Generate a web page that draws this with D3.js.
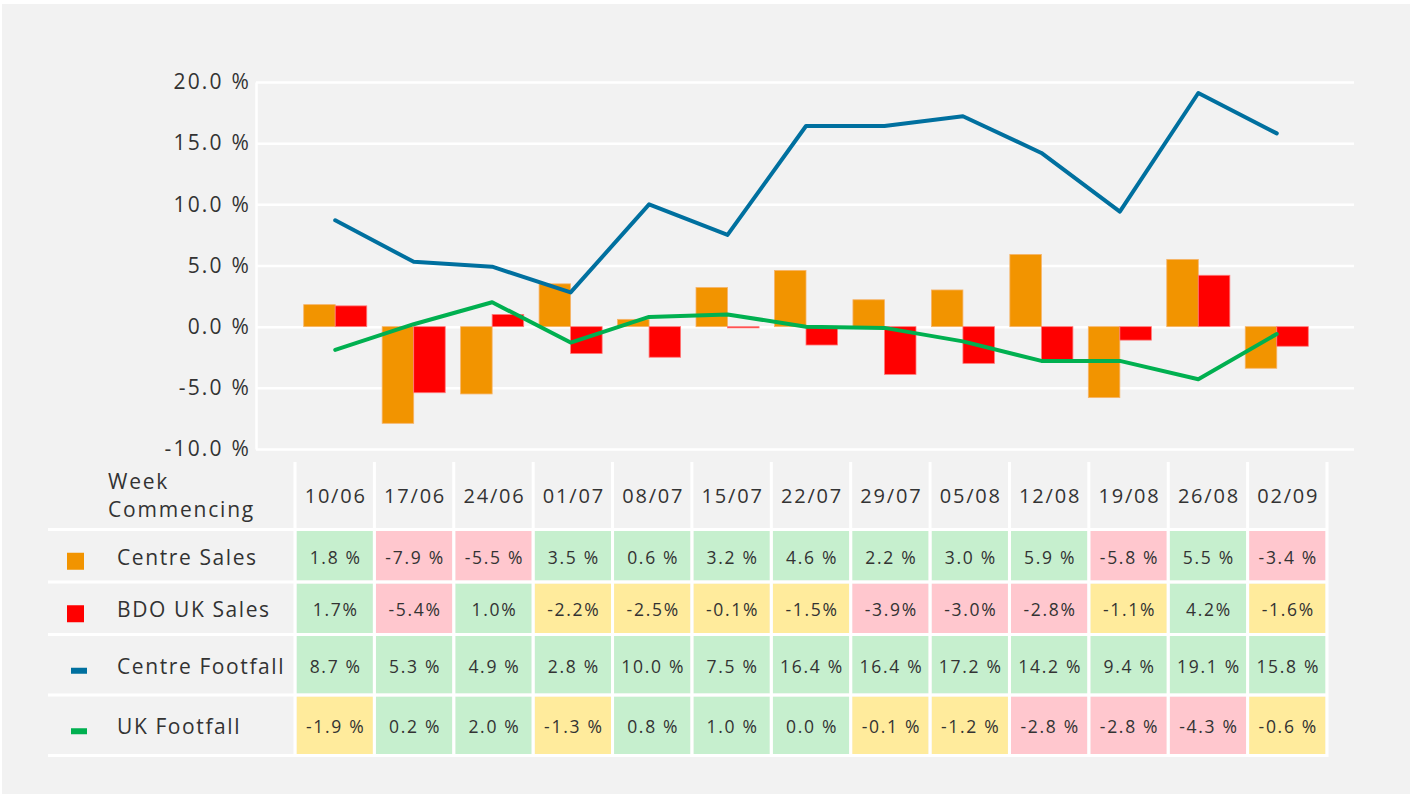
<!DOCTYPE html>
<html>
<head>
<meta charset="utf-8">
<script src="https://cdn.jsdelivr.net/npm/d3@7"></script>
<style>
  body { margin: 0; background: #fff; }
  text { font-family: "Open Sans", sans-serif; fill: #333; }
</style>
</head>
<body>
<div id="chart"></div>
<script>
// data
var weeks = ["10/06", "17/06", "24/06", "01/07", "08/07", "15/07", "22/07", "29/07", "05/08", "12/08", "19/08", "26/08", "02/09"];
var centreSales = [1.8, -7.9, -5.5, 3.5, 0.6, 3.2, 4.6, 2.2, 3.0, 5.9, -5.8, 5.5, -3.4];
var bdoSales = [1.7, -5.4, 1.0, -2.2, -2.5, -0.1, -1.5, -3.9, -3.0, -2.8, -1.1, 4.2, -1.6];
var centreFootfall = [8.7, 5.3, 4.9, 2.8, 10.0, 7.5, 16.4, 16.4, 17.2, 14.2, 9.4, 19.1, 15.8];
var ukFootfall = [-1.9, 0.2, 2.0, -1.3, 0.8, 1.0, 0.0, -0.1, -1.2, -2.8, -2.8, -4.3, -0.6];
var yTicks = [-10, -5, 0, 5, 10, 15, 20];
var seriesNames = ["Centre Sales", "BDO UK Sales", "Centre Footfall", "UK Footfall"];

var W = 1410, H = 796;
var plot = { left: 256, right: 1354, top: 82, bottom: 449, bandStart: 296, bandEnd: 1316 };
var table = { left: 48, colStart: 295, colEnd: 1327, headTop: 462 };
var rowLines = [529.5, 582, 634.5, 695, 755.5];

var colors = {
  orange: "#f29400", red: "#ff0000", blue: "#00709f", green: "#00b050",
  good: "#c6efce", warn: "#ffeb9c", bad: "#ffc7ce", panel: "#f2f2f2"
};

var svg = d3.select("#chart")
  .append("svg")
  .attr("width", W)
  .attr("height", H);

svg.append("rect")
  .attr("x", 2).attr("y", 4)
  .attr("width", W - 2).attr("height", H - 6)
  .attr("fill", colors.panel);

// scales: the chart bands are a touch narrower than the table columns
var x = d3.scaleBand()
  .domain(weeks)
  .range([plot.bandStart, plot.bandEnd]);

var xSub = d3.scaleBand()
  .domain(["centre", "bdo"])
  .range([7.7, x.bandwidth() - 7.7]);

var xTable = d3.scaleBand()
  .domain(weeks)
  .range([table.colStart, table.colEnd]);

var y = d3.scaleLinear()
  .domain([-10, 20])
  .range([plot.bottom, plot.top]);

// y axis + gridlines
var yAxis = svg.append("g")
  .attr("transform", "translate(" + plot.left + ",0)")
  .call(d3.axisLeft(y)
    .tickValues(yTicks)
    .tickSizeInner(-(plot.right - plot.left))
    .tickSizeOuter(0)
    .tickPadding(5)
    .tickFormat(function (d) { return d.toFixed(1) + " %"; }));

yAxis.select(".domain").attr("stroke", "#fff").attr("stroke-width", 2.5);
yAxis.selectAll(".tick line").attr("stroke", "#fff").attr("stroke-width", 2.5);
yAxis.selectAll(".tick text")
  .style("font-size", "21px")
  .style("letter-spacing", "2.2px")
  .style("font-family", "'Open Sans', sans-serif")
  .attr("fill", "#333");

// bars
var groups = svg.selectAll("g.week")
  .data(weeks)
  .enter()
  .append("g")
  .attr("class", "week")
  .attr("transform", function (d) { return "translate(" + x(d) + ",0)"; });

groups.append("rect")
  .attr("x", xSub("centre"))
  .attr("width", xSub.bandwidth())
  .attr("y", function (d, i) { return y(Math.max(0, centreSales[i])); })
  .attr("height", function (d, i) { return Math.abs(y(centreSales[i]) - y(0)); })
  .attr("fill", colors.orange)
  .attr("stroke", "#f6b46a")
  .attr("stroke-width", 0.8);

groups.append("rect")
  .attr("x", xSub("bdo"))
  .attr("width", xSub.bandwidth())
  .attr("y", function (d, i) { return y(Math.max(0, bdoSales[i])); })
  .attr("height", function (d, i) { return Math.abs(y(bdoSales[i]) - y(0)); })
  .attr("fill", colors.red)
  .attr("stroke", "#ff7a7a")
  .attr("stroke-width", 0.8);

// lines
var line = d3.line()
  .x(function (d, i) { return x(weeks[i]) + x.bandwidth() / 2; })
  .y(function (d) { return y(d); });

svg.append("path")
  .datum(centreFootfall)
  .attr("d", line)
  .attr("fill", "none")
  .attr("stroke", colors.blue)
  .attr("stroke-width", 4)
  .attr("stroke-linecap", "round")
  .attr("stroke-linejoin", "round");

svg.append("path")
  .datum(ukFootfall)
  .attr("d", line)
  .attr("fill", "none")
  .attr("stroke", colors.green)
  .attr("stroke-width", 4)
  .attr("stroke-linecap", "round")
  .attr("stroke-linejoin", "round");

// data table
var rows = [
  { name: seriesNames[0], values: centreSales, suffix: " %", marker: "square", color: colors.orange },
  { name: seriesNames[1], values: bdoSales, suffix: "%", marker: "square", color: colors.red },
  { name: seriesNames[2], values: centreFootfall, suffix: " %", marker: "dash", color: colors.blue },
  { name: seriesNames[3], values: ukFootfall, suffix: " %", marker: "dash", color: colors.green }
];

function cellColor(v) {
  if (v >= 0) return colors.good;
  if (v > -2.6) return colors.warn;
  return colors.bad;
}

var tbl = svg.append("g").attr("class", "table");

// header
tbl.selectAll("text.week")
  .data(weeks)
  .enter()
  .append("text")
  .attr("class", "week")
  .attr("x", function (d) { return xTable(d) + xTable.bandwidth() / 2 + 1; })
  .attr("y", (table.headTop + rowLines[0]) / 2)
  .attr("text-anchor", "middle")
  .attr("dominant-baseline", "central")
  .style("font-size", "20px")
  .style("letter-spacing", "1.8px")
  .text(function (d) { return d; });

tbl.append("text")
  .attr("x", 108)
  .attr("y", 489)
  .style("font-size", "21px")
  .style("letter-spacing", "1.8px")
  .text("Week");
tbl.append("text")
  .attr("x", 108)
  .attr("y", 517)
  .style("font-size", "21px")
  .style("letter-spacing", "1.8px")
  .text("Commencing");

// cells
rows.forEach(function (r, ri) {
  var top = rowLines[ri] + 1.5, bot = rowLines[ri + 1] - 1.5;
  var mid = (top + bot) / 2;
  var g = tbl.append("g");

  g.selectAll("rect")
    .data(r.values)
    .enter()
    .append("rect")
    .attr("x", function (d, i) { return xTable(weeks[i]) + 1.5; })
    .attr("width", xTable.bandwidth() - 3)
    .attr("y", top)
    .attr("height", bot - top)
    .attr("fill", function (d) { return cellColor(d); });

  g.selectAll("text")
    .data(r.values)
    .enter()
    .append("text")
    .attr("x", function (d, i) { return xTable(weeks[i]) + xTable.bandwidth() / 2 + 1; })
    .attr("y", mid + 1)
    .attr("text-anchor", "middle")
    .attr("dominant-baseline", "central")
    .style("font-size", "17.5px")
    .style("letter-spacing", "1.7px")
    .text(function (d) { return d.toFixed(1) + r.suffix; });

  // legend marker + label
  if (r.marker == "square") {
    g.append("rect")
      .attr("x", 67).attr("y", mid - 3)
      .attr("width", 17).attr("height", 17)
      .attr("fill", r.color);
  } else {
    g.append("rect")
      .attr("x", 71).attr("y", mid + 3)
      .attr("width", 16).attr("height", 6)
      .attr("fill", r.color);
  }
  g.append("text")
    .attr("x", 117)
    .attr("y", mid + 1)
    .attr("dominant-baseline", "central")
    .style("font-size", "21px")
    .style("letter-spacing", "1.6px")
    .text(r.name);
});

// table grid lines
tbl.selectAll("line.h")
  .data(rowLines)
  .enter()
  .append("line")
  .attr("x1", table.left).attr("x2", table.colEnd)
  .attr("y1", function (d) { return d; })
  .attr("y2", function (d) { return d; })
  .attr("stroke", "#fff")
  .attr("stroke-width", 3);

tbl.selectAll("line.v")
  .data(weeks.concat(["end"]))
  .enter()
  .append("line")
  .attr("x1", function (d, i) { return table.colStart + i * xTable.bandwidth(); })
  .attr("x2", function (d, i) { return table.colStart + i * xTable.bandwidth(); })
  .attr("y1", table.headTop)
  .attr("y2", rowLines[4] + 1.5)
  .attr("stroke", "#fff")
  .attr("stroke-width", 3);
</script>
</body>
</html>
